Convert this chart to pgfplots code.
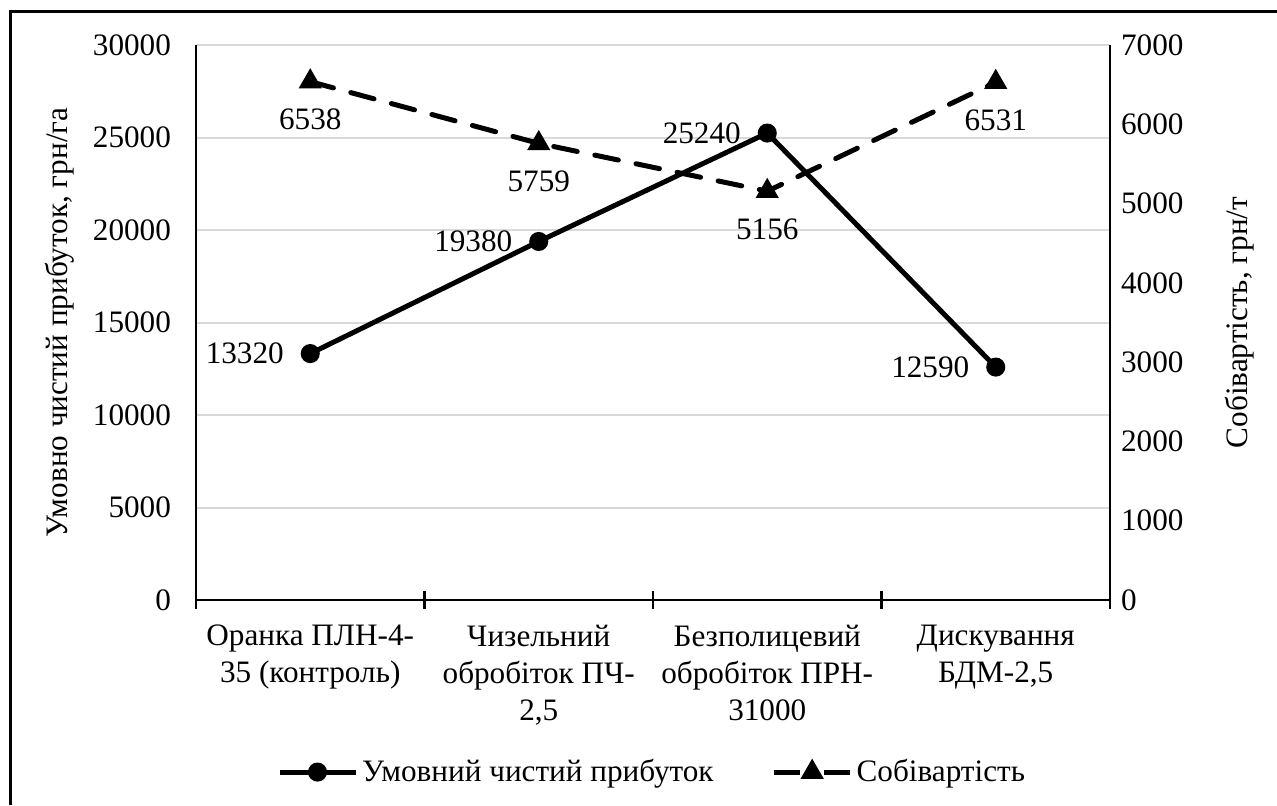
\documentclass[border=0pt]{standalone}
\usepackage{pgfplots}
\pgfplotsset{compat=1.18}
\usepackage{fontspec}
\setmainfont{Liberation Serif}
\newcommand{\ff}{\fontsize{15.6}{18.5}\selectfont}
\begin{document}
\begin{tikzpicture}
\path[use as bounding box] (0,0) rectangle (638.5pt,402.5pt);
\pgfplotsset{
  base/.style={
    at={(98pt,102.5pt)}, anchor=south west,
    scale only axis, width=457pt, height=277.5pt,
    xmin=-0.5, xmax=3.5, clip=false,
    major tick length=0pt,
    tick label style={font=\ff},
    label style={font=\ff},
    /pgf/number format/assume math mode=true,
    /pgf/number format/1000 sep={},
    scaled y ticks=false,
    axis line style={-, line width=1.2pt, black},
  }
}
\begin{axis}[base,
  axis x line*=bottom, axis y line*=left,
  ymin=0, ymax=30000, ytick={0,5000,...,30000},
  ymajorgrids, grid style={line width=1pt, gray!30},
  xtick={0,1,2,3},
  xticklabels={{Оранка ПЛН-4-\\35 (контроль)},{Чизельний\\обробіток ПЧ-\\2,5},{Безполицевий\\обробіток ПРН-\\31000},{Дискування\\БДМ-2,5}},
  xticklabel style={align=center, yshift=-9pt},
  minor xtick={-0.5,0.5,1.5,2.5,3.5},
  minor tick length=9pt, tick align=center,
  minor tick style={line width=1.2pt, black},
  yticklabel style={xshift=-9pt},
  ylabel={Умовно чистий прибуток, грн/га},
  ylabel style={at={(axis description cs:-0.149,0.5)}, anchor=center, rotate=0},
]
\addplot[black, line width=2.5pt, mark=*, mark size=3.5pt,
  nodes near coords, point meta=explicit symbolic,
  every node near coord/.append style={anchor=east, xshift=-12pt, yshift=0pt, font=\ff, inner sep=0pt, black}]
  coordinates {(0,13320)[13320] (1,19380)[19380] (2,25240)[25240] (3,12590)[12590]};
\end{axis}
\begin{axis}[base,
  axis x line=none, axis y line*=right,
  ymin=0, ymax=7000, ytick={0,1000,...,7000},
  xtick=\empty,
  yticklabel style={xshift=2pt},
  ylabel={Собівартість, грн/т},
  ylabel style={at={(axis description cs:1.142,0.5)}, anchor=center},
  legend style={at={(axis description cs:0.5,-0.31)}, anchor=center, draw=none, font=\ff,
    legend columns=2, /tikz/every even column/.append style={column sep=27pt},
    nodes={inner xsep=2pt}},
  legend image code/.code={\draw[mark repeat=2, mark phase=2, #1] plot coordinates {(0pt,0pt) (19pt,0pt) (38pt,0pt)};},
]
\addlegendimage{black, line width=2.5pt, mark=*, mark size=3.5pt}
\addlegendentry{Умовний чистий прибуток}
\addlegendimage{black, line width=2.5pt, dash pattern=on 13pt off 12pt, mark=triangle*, mark size=4.2pt, mark options={solid}}
\addlegendentry{Собівартість}
\addplot[black, line width=2.5pt, dash pattern=on 12pt off 9pt, line cap=round, mark=triangle*, mark size=4.2pt,
  mark options={solid}, forget plot,
  nodes near coords, point meta=explicit symbolic,
  every node near coord/.append style={anchor=center, yshift=-19pt, font=\ff, inner sep=0pt, black}]
  coordinates {(0,6538)[6538] (1,5759)[5759] (2,5156)[5156] (3,6531)[6531]};
\end{axis}
\draw[line width=1.5pt, black] (5pt,0pt) -- (5pt,396.5pt) -- (638.5pt,396.5pt);
\end{tikzpicture}
\end{document}
